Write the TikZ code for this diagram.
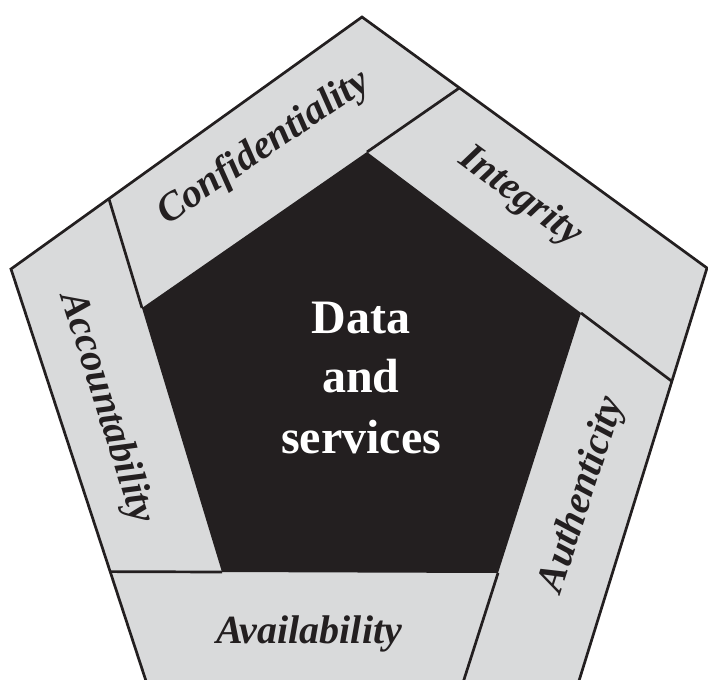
\documentclass[tikz,border=0pt]{standalone}
\usepackage{fontspec}
\setmainfont{Liberation Serif}
\definecolor{bandgrey}{HTML}{D9DADB}
\definecolor{coreblack}{HTML}{231F20}
\begin{document}
\begin{tikzpicture}[x=1pt,y=-1pt,line join=miter,
  edgeline/.style={line width=2.7pt,draw=coreblack},
  bandlabel/.style={font=\fontsize{40}{48}\selectfont\bfseries\itshape,text=coreblack,inner sep=0pt},
  corelabel/.style={font=\fontsize{48}{60}\selectfont\bfseries,text=white,inner sep=0pt,anchor=base}]
\useasboundingbox (0,0) rectangle (708,679);
\clip (0,0) rectangle (708,679);
% outer pentagon
\coordinate (T) at (362,17);
\coordinate (L) at (11,269);
\coordinate (R) at (707,268);
\coordinate (BL) at (147,684);
\coordinate (BR) at (578,684);
% inner pentagon
\coordinate (IT) at (367,152);
\coordinate (IL) at (142,308);
\coordinate (IR) at (581,313);
\coordinate (IBL) at (222,572);
\coordinate (IBR) at (498,573);
% divider ends on the outer border
\coordinate (D1) at (intersection of IL--IT and T--R);
\coordinate (D2) at (intersection of IBL--IL and L--T);
\coordinate (D3) at (intersection of IBR--IBL and L--BL);
\coordinate (D4) at (intersection of IR--IBR and BL--BR);
\coordinate (D5) at (intersection of IT--IR and R--BR);
\fill[bandgrey] (T) -- (R) -- (BR) -- (BL) -- (L) -- cycle;
\fill[coreblack] (IT) -- (IR) -- (IBR) -- (IBL) -- (IL) -- cycle;
\draw[edgeline] (T) -- (R) -- (BR) -- (BL) -- (L) -- cycle;
\draw[edgeline] (IT) -- (D1);
\draw[edgeline] (IL) -- (D2);
\draw[edgeline] (IBL) -- (D3);
\draw[edgeline] (IBR) -- (D4);
\draw[edgeline] (IR) -- (D5);
% labels
\node[bandlabel,rotate=34] (conf) at (264,148) {Confidentiality};
\node[bandlabel,rotate=-36.3] (integ) at (520,197) {Integrity};
\node[bandlabel,rotate=72] (auth) at (583,495) {Authenticity};
\node[bandlabel,anchor=base] (avail) at (309,643) {Availability};
\node[bandlabel,rotate=-72.4] (acct) at (106,408) {Accountability};
% core
\node[corelabel] (c1) at (361,333) {Data};
\node[corelabel] (c2) at (361,392) {and};
\node[corelabel] (c3) at (361,453) {services};
\end{tikzpicture}
\end{document}
